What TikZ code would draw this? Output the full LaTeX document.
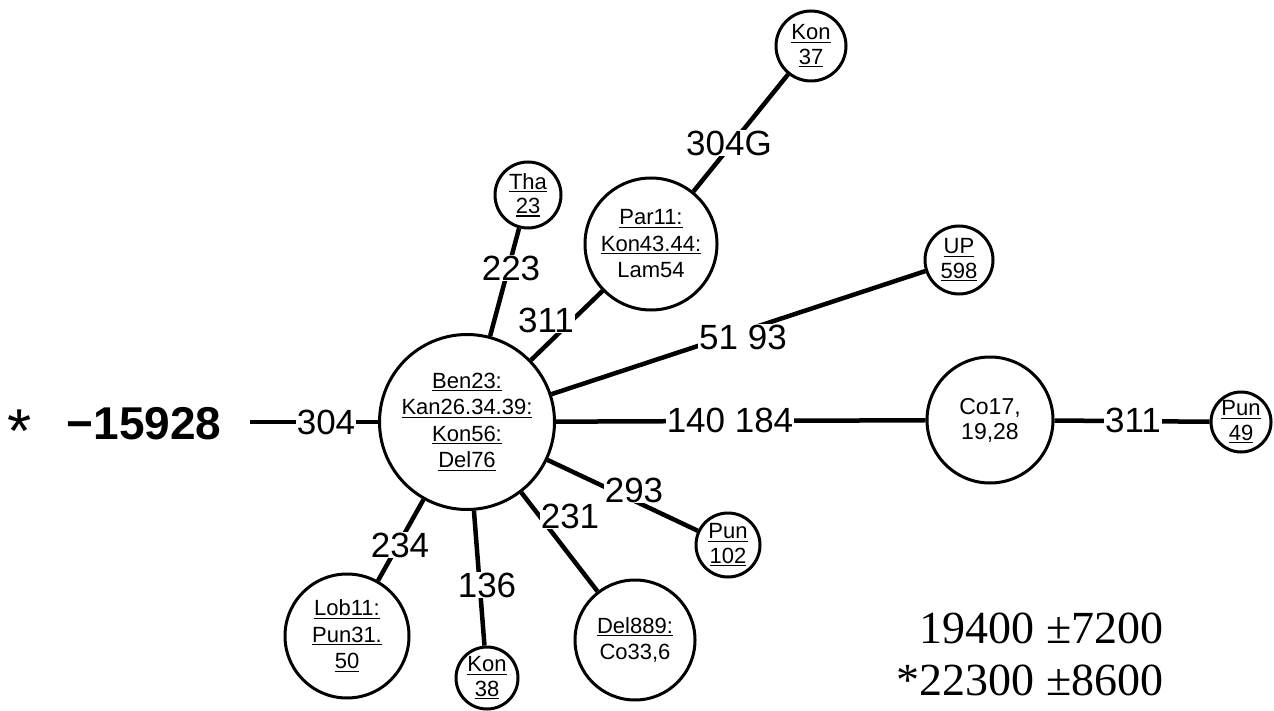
\documentclass[tikz,border=0pt]{standalone}
\usepackage{fontspec}
\setmainfont{Liberation Sans}
\newfontfamily\serifnum{Liberation Serif}
\newcommand\ulx[1]{\setbox0\hbox{#1}\rlap{\rule[-3pt]{\wd0}{1.3pt}}\box0}
\begin{document}
\begin{tikzpicture}[x=1pt,y=-1pt,
  hap/.style={circle,draw,line width=3pt,fill=white,inner sep=0pt,align=center,
    font=\fontsize{22}{26.5}\selectfont},
  small/.style={hap,font=\fontsize{22}{24.5}\selectfont},
  edge/.style={line width=4.5pt},
  lbl/.style={fill=white,inner sep=1pt,font=\fontsize{35}{40}\selectfont}]
\useasboundingbox (0,0) rectangle (1274,711);
% haplotype circles
\node[hap, minimum size=175pt] (c) at (467,422) {\ulx{Ben23:}\\\ulx{Kan26.34.39:}\\\ulx{Kon56:}\\\ulx{Del76}};
\node[hap, minimum size=132pt] (par) at (651,244) {\ulx{Par11:}\\\ulx{Kon43.44:}\\Lam54};
\node[small, minimum size=70pt] (kon37) at (811,46) {\ulx{Kon}\\\ulx{37}};
\node[small, minimum size=66pt] (tha) at (528,195) {\ulx{Tha}\\\ulx{23}};
\node[small, minimum size=68pt] (up) at (959,260) {\ulx{UP}\\\ulx{598}};
\node[hap, minimum size=126pt, font=\fontsize{23}{25}\selectfont] (co) at (990,420) {Co17,\\19,28};
\node[small, minimum size=60pt] (pun49) at (1241,422) {\ulx{Pun}\\\ulx{49}};
\node[small, minimum size=64pt] (pun102) at (728,545) {\ulx{Pun}\\\ulx{102}};
\node[hap, minimum size=120pt] (del) at (635,640) {\ulx{Del889:}\\Co33,6};
\node[hap, minimum size=124pt] (lob) at (347,636) {\ulx{Lob11:}\\\ulx{Pun31.}\\\ulx{50}};
\node[small, minimum size=62pt] (kon38) at (487,678) {\ulx{Kon}\\\ulx{38}};
\coordinate (lend) at (250,422);
% connectors
\draw[edge] (lend) -- (c);
\draw[edge] (c) -- (tha);
\draw[edge] (c) -- (par);
\draw[edge] (par) -- (kon37);
\draw[edge] (c) -- (up);
\draw[edge] (c) -- (co);
\draw[edge] (co) -- (pun49);
\draw[edge] (c) -- (pun102);
\draw[edge] (c) -- (del);
\draw[edge] (c) -- (kon38);
\draw[edge] (c) -- (lob);
% mutation labels
\node[lbl] (l304) at (326,422) {304};
\node[lbl] (l223) at (511,268) {223};
\node[lbl] (l311a) at (546,320) {311};
\node[lbl] (l304g) at (729,143) {304G};
\node[lbl] (l5193) at (743,337) {51 93};
\node[lbl] (l140) at (730,420) {140 184};
\node[lbl] (l311b) at (1133,420) {311};
\node[lbl] (l293) at (634,490) {293};
\node[lbl] (l231) at (570,516) {231};
\node[lbl] (l136) at (487,585) {136};
\node[lbl] (l234) at (400,545) {234};
% root and ages
\node (star) at (20,431) {\fontsize{62}{62}\selectfont *};
\node (root) at (144,424) {\fontsize{46}{46}\selectfont\bfseries −15928};
\node[anchor=base east, font=\serifnum\fontsize{46}{52}\selectfont] (age1) at (1167,643) {19400 ±7200};
\node[anchor=base east, font=\serifnum\fontsize{46}{52}\selectfont] (age2) at (1167,695) {*22300 ±8600};
\end{tikzpicture}
\end{document}
